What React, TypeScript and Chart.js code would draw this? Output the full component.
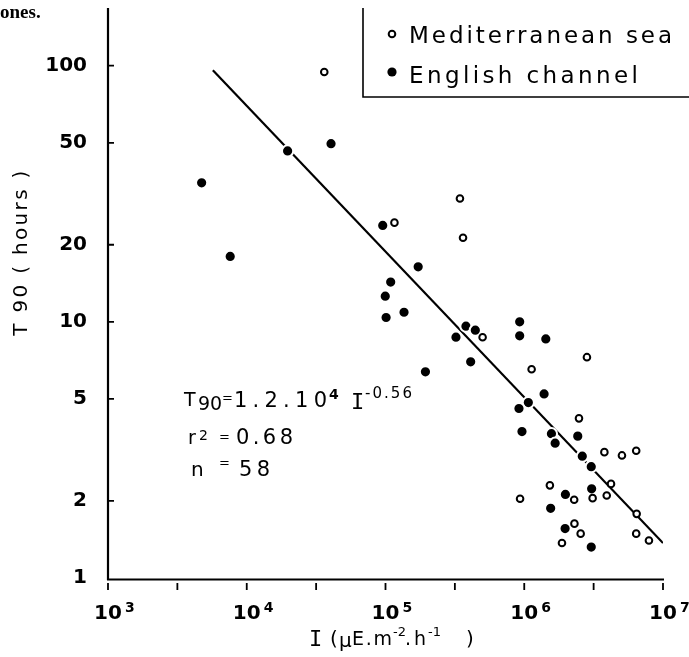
import React, { useEffect, useRef } from "react";
import { Chart, registerables } from "chart.js";

Chart.register(...registerables);

// Mediterranean sea (open circles)
const medX = [3.62e4, 1.16e5, 3.44e5, 3.62e5, 5.01e5, 1.13e6, 2.83e6, 2.48e6, 3.78e6, 5.06e6, 6.41e6, 4.22e6, 3.93e6, 3.11e6, 2.29e6, 1.53e6, 9.33e5, 2.3e6, 2.55e6, 1.87e6, 6.46e6, 6.41e6, 7.92e6];
const medY = [94.5, 24.4, 30.3, 21.3, 8.71, 6.53, 7.28, 4.2, 3.1, 3.01, 3.14, 2.33, 2.1, 2.05, 2.02, 2.3, 2.04, 1.63, 1.49, 1.37, 1.78, 1.49, 1.4];

// English channel (filled circles)
const engX = [4.73e3, 7.6e3, 1.97e4, 4.05e4, 9.55e4, 1.72e5, 1.09e5, 9.96e4, 1.01e5, 1.36e5, 1.94e5, 3.22e5, 3.8e5, 4.44e5, 4.11e5, 9.27e5, 9.27e5, 1.43e6, 1.39e6, 1.07e6, 9.16e5, 9.63e5, 1.57e6, 1.67e6, 2.43e6, 2.62e6, 3.04e6, 3.06e6, 1.98e6, 1.55e6, 1.97e6, 3.04e6];
const engY = [34.9, 18.0, 46.5, 49.6, 23.8, 16.4, 14.3, 12.6, 10.4, 10.9, 6.38, 8.71, 9.62, 9.28, 6.98, 10.0, 8.82, 8.58, 5.23, 4.84, 4.59, 3.73, 3.66, 3.36, 3.58, 2.99, 2.72, 2.23, 2.12, 1.87, 1.56, 1.32];

// Regression line end points
const fitX = [5.7e3, 1.0e7];
const fitY = [95.9, 1.37];

// Tick values
const yTicks = [1, 2, 5, 10, 20, 50, 100];
const yTickMarks = [2, 5, 10, 20, 50, 100];
const xDecades = [3, 4, 5, 6, 7];
const xTickExps = [3, 3.5, 4, 4.5, 5, 5.5, 6, 6.5, 7];

const SANS = '"DejaVu Sans", sans-serif';
const MONO = '"DejaVu Sans Mono", monospace';

function txt(ctx: CanvasRenderingContext2D, s: string, x: number, y: number, font: string, opts: { align?: CanvasTextAlign; width?: number; baseline?: CanvasTextBaseline } = {}) {
  ctx.save();
  ctx.font = font;
  ctx.fillStyle = "#000";
  ctx.textAlign = opts.align || "left";
  ctx.textBaseline = opts.baseline || "alphabetic";
  (ctx as any).letterSpacing = "0px";
  if (opts.width && s.length > 1) {
    const w0 = ctx.measureText(s).width;
    const sp = (opts.width - w0) / (s.length - 1);
    (ctx as any).letterSpacing = sp.toFixed(2) + "px";
  }
  ctx.fillText(s, x, y);
  ctx.restore();
}

const decorPlugin = {
  id: "decor",
  beforeDatasetsDraw(chart: any) {
    const ctx: CanvasRenderingContext2D = chart.ctx;
    const xs = chart.scales.x;
    const ys = chart.scales.y;
    const left = chart.chartArea.left;
    const bottom = chart.chartArea.bottom;
    const right = chart.chartArea.right;
    ctx.save();
    ctx.strokeStyle = "#000";
    ctx.lineWidth = 2.2;
    ctx.beginPath();
    ctx.moveTo(left, 8);
    ctx.lineTo(left, bottom + 2);
    ctx.moveTo(left - 1, bottom + 1.5);
    ctx.lineTo(right + 1, bottom + 1.5);
    ctx.stroke();
    // y ticks
    ctx.lineWidth = 1.8;
    ctx.beginPath();
    for (const v of yTickMarks) {
      const py = ys.getPixelForValue(v);
      ctx.moveTo(left, py);
      ctx.lineTo(left + 6, py);
    }
    // x ticks
    for (const e of xTickExps) {
      const px = xs.getPixelForValue(Math.pow(10, e));
      ctx.moveTo(px, bottom + 5);
      ctx.lineTo(px, bottom + 12);
    }
    ctx.stroke();
    // legend box
    ctx.lineWidth = 1.6;
    ctx.beginPath();
    ctx.moveTo(363, 8);
    ctx.lineTo(363, 97);
    ctx.lineTo(689, 97);
    ctx.stroke();
    ctx.restore();

    // y labels
    for (const v of yTicks) {
      const py = ys.getPixelForValue(v);
      txt(ctx, String(v), 87, py, "bold 20px " + SANS, { align: "right", baseline: "middle" });
    }
    // x labels
    for (const d of xDecades) {
      const px = xs.getPixelForValue(Math.pow(10, d));
      txt(ctx, "10", px, 619, "bold 20px " + SANS, { align: "center" });
      txt(ctx, String(d), px + 17, 612, "bold 14px " + SANS);
    }
    // x title
    txt(ctx, "I", 309, 646, "22px " + MONO);
    txt(ctx, "(", 330, 645, "20px " + SANS);
    txt(ctx, "\u03bc", 339, 647, "20px " + SANS);
    txt(ctx, "E.m", 352, 645, "19px " + SANS, { width: 40 });
    txt(ctx, "-2", 393, 636, "13px " + SANS);
    txt(ctx, ".h", 405, 645, "19px " + SANS, { width: 21 });
    txt(ctx, "-1", 428, 636, "13px " + SANS, { width: 13 });
    txt(ctx, ")", 466, 645, "20px " + SANS);
    // y title
    ctx.save();
    ctx.translate(27, 252);
    ctx.rotate(-Math.PI / 2);
    txt(ctx, "T 90 ( hours )", 0, 0, "20px " + SANS, { align: "center", width: 165 });
    ctx.restore();

    // legend text
    txt(ctx, "Mediterranean sea", 409, 43, "23px " + SANS, { width: 263 });
    txt(ctx, "English channel", 409, 83, "23px " + SANS, { width: 229 });
    // legend markers
    ctx.save();
    ctx.beginPath();
    ctx.arc(392, 34, 3.3, 0, Math.PI * 2);
    ctx.fillStyle = "#fff";
    ctx.fill();
    ctx.lineWidth = 2;
    ctx.strokeStyle = "#000";
    ctx.stroke();
    ctx.beginPath();
    ctx.arc(392, 72, 4.6, 0, Math.PI * 2);
    ctx.fillStyle = "#000";
    ctx.fill();
    ctx.restore();

    // equation
    txt(ctx, "T", 184, 406, "19px " + SANS);
    txt(ctx, "90", 198, 410, "19px " + SANS);
    txt(ctx, "=", 222, 402, "13px " + SANS);
    txt(ctx, "1.2.10", 234, 407, "21px " + SANS, { width: 93 });
    txt(ctx, "4", 329, 399, "bold 14px " + SANS);
    txt(ctx, "I", 351, 409, "22px " + MONO);
    txt(ctx, "-0.56", 365, 398, "15px " + SANS, { width: 47 });
    txt(ctx, "r", 188, 444, "19px " + SANS);
    txt(ctx, "2", 199, 440, "14px " + SANS);
    txt(ctx, "=", 219, 441, "13px " + SANS);
    txt(ctx, "0.68", 236, 444, "21px " + SANS, { width: 57 });
    txt(ctx, "n", 191, 476, "20px " + SANS);
    txt(ctx, "=", 219, 467, "13px " + SANS);
    txt(ctx, "58", 239, 476, "21px " + SANS, { width: 31 });

    // caption fragment
    txt(ctx, "ones.", 0, 18, "bold 19px \"Liberation Serif\", serif");
  },
};

export default function App() {
  const ref = useRef<HTMLCanvasElement | null>(null);
  useEffect(() => {
    document.body.style.margin = "0";
    if (!ref.current) return;
    const chart = new Chart(ref.current, {
      type: "scatter",
      data: {
        datasets: [
          {
            label: "Mediterranean sea",
            data: medX.map((x, i) => ({ x, y: medY[i] })),
            backgroundColor: "#fff",
            borderColor: "#000",
            borderWidth: 2,
            pointRadius: 3.3,
            order: 1,
          },
          {
            label: "English channel",
            data: engX.map((x, i) => ({ x, y: engY[i] })),
            backgroundColor: "#000",
            borderColor: "#fff",
            borderWidth: 2,
            pointRadius: 5.6,
            order: 2,
          },
          {
            label: "fit",
            type: "line",
            data: fitX.map((x, i) => ({ x, y: fitY[i] })),
            borderColor: "#000",
            borderWidth: 2.2,
            pointRadius: 0,
            showLine: true,
            fill: false,
            order: 3,
          } as any,
        ],
      },
      options: {
        animation: false,
        responsive: false,
        layout: { padding: { left: 108, right: 26, top: 10, bottom: 79 } },
        plugins: { legend: { display: false }, tooltip: { enabled: false } },
        scales: {
          x: { type: "logarithmic", min: 1000, max: 1e7, display: false },
          y: { type: "logarithmic", min: 1, max: 165, display: false },
        },
      },
      plugins: [decorPlugin],
    });
    return () => chart.destroy();
  }, []);
  return (
    <div style={{ position: "absolute", left: 0, top: 0, width: 689, height: 657, background: "#fff" }}>
      <canvas ref={ref} width={689} height={657} style={{ width: 689, height: 657 }} />
    </div>
  );
}
